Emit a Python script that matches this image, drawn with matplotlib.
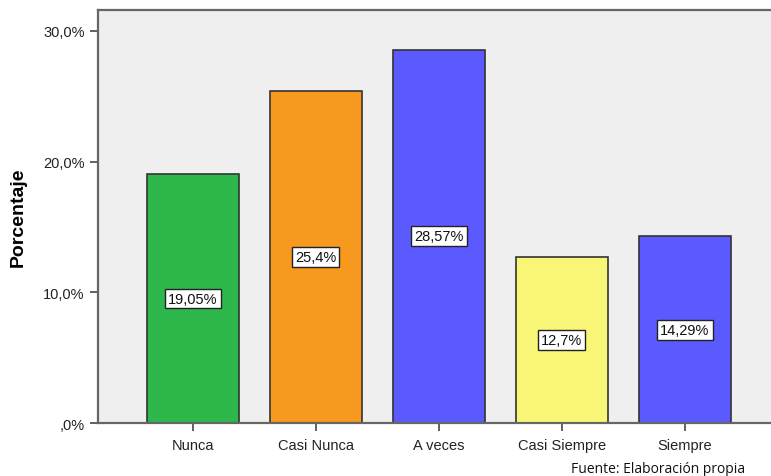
import matplotlib.pyplot as plt
from matplotlib.ticker import FuncFormatter

categorias = ['Nunca', 'Casi Nunca', 'A veces', 'Casi Siempre', 'Siempre']
porcentajes = [19.05, 25.4, 28.57, 12.7, 14.29]
etiquetas = ['19,05%', '25,4%', '28,57%', '12,7%', '14,29%']
colores = ['#2eb84b', '#f8991f', '#5a5afe', '#f9f677', '#5a5afe']

plt.rcParams['font.family'] = ['Liberation Sans', 'DejaVu Sans']


def formato_pct(v, pos):
    txt = '{:.1f}%'.format(v).replace('.', ',')
    return txt[1:] if txt.startswith('0,') else txt


fig = plt.figure(figsize=(7.71, 4.77), dpi=100)
ax = fig.add_axes([0.1271, 0.1111, 0.8729, 0.8658])
ax.set_facecolor('#efefef')

x = range(len(categorias))
ax.bar(x, porcentajes, width=0.75, color=colores,
       edgecolor='#333333', linewidth=1.2, zorder=2)

# valores dentro de cada barra, a media altura
for xi, val, txt in zip(x, porcentajes, etiquetas):
    ax.text(xi, val / 2, txt, ha='center', va='center', fontsize=10.5,
            color='#111111',
            bbox=dict(boxstyle='square,pad=0.2', fc='white', ec='#222222', lw=1),
            zorder=3)

ax.set_xlim(-0.772, 4.70)
ax.set_ylim(0, 31.6)
ax.set_yticks([0, 10, 20, 30])
ax.yaxis.set_major_formatter(FuncFormatter(formato_pct))
ax.set_xticks(list(x))
ax.set_xticklabels(categorias)
ax.tick_params(axis='both', direction='out', length=6, width=1.3,
               color='#555555', labelsize=10.5, labelcolor='#222222')
ax.tick_params(axis='x', pad=5)

for lado in ['left', 'bottom', 'top']:
    ax.spines[lado].set_color('#666666')
    ax.spines[lado].set_linewidth(1.6)
ax.spines['right'].set_visible(False)

ax.set_ylabel('Porcentaje', fontsize=14, fontweight='bold', labelpad=12)

fig.text(0.967, 0.008, 'Fuente: Elaboración propia', ha='right',
         fontsize=10, family='Open Sans', color='#111111')

fig.savefig('out.png', dpi=100)
